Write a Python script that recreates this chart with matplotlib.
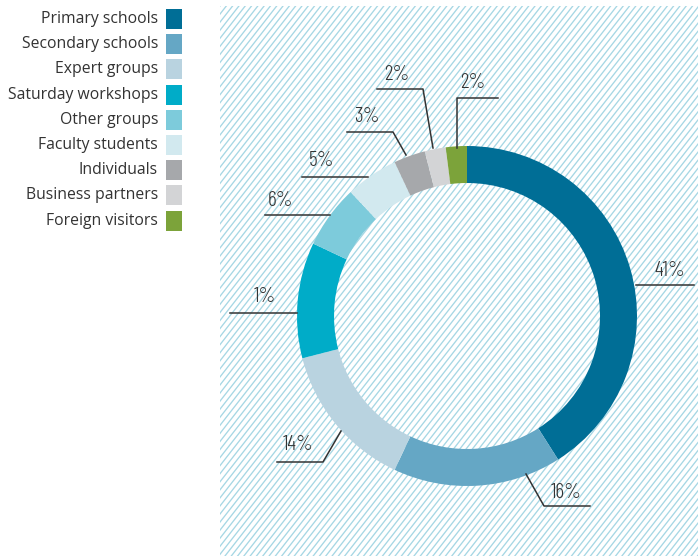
import numpy as np
import matplotlib
matplotlib.use('Agg')
from matplotlib import pyplot as plt
from matplotlib.patches import Rectangle

categories = ['Primary schools', 'Secondary schools', 'Expert groups', 'Saturday workshops',
              'Other groups', 'Faculty students', 'Individuals', 'Business partners', 'Foreign visitors']
values = [41, 16, 14, 11, 6, 5, 3, 2, 2]
pct_labels = ['41%', '16%', '14%', '1%', '6%', '5%', '3%', '2%', '2%']
colors = ['#006e96', '#65a7c5', '#b9d3e0', '#00acc8', '#7dcbdb', '#d2e9ef', '#a6a8ab', '#d3d4d6', '#7ca33a']

W, H = 698, 556
fig = plt.figure(figsize=(W / 100, H / 100), dpi=100)
ax = fig.add_axes([0, 0, 1, 1])

# hatched background panel
bx0, by0, bx1, by1 = 220, 0, W, H - 6
panel = Rectangle((bx0, by0), bx1 - bx0, by1 - by0, facecolor='white', edgecolor='none')
ax.add_patch(panel)
slope = np.tan(np.radians(52))
step = 6.3
run = (by1 - by0) / slope
for x0 in np.arange(bx0 - run, bx1 + step, step):
    ln, = ax.plot([x0, x0 + run], [by0, by1], color='#a6d7e4', lw=0.95, zorder=1)
    ln.set_clip_path(panel)

# donut
cx, cy, r_out, width = 467, H - 316, 170, 37
wedges, _ = ax.pie(values, colors=colors, startangle=90, counterclock=False,
                   center=(cx, cy), radius=r_out, frame=True,
                   wedgeprops=dict(width=width, linewidth=0))
for w in wedges:
    w.set_zorder(2)
ax.set_xlim(0, W)
ax.set_ylim(0, H)
ax.axis('off')

# leader lines and labels, pixel layout (y from top)
label_font = ['Barlow Condensed', 'DejaVu Sans']
layout = [
    ((670, 270), [(636, 285), (694, 285)]),
    ((566, 492), [(526, 474), (544, 506), (590, 506)]),
    ((298, 444), [(341, 431), (323, 462), (277, 462)]),
    ((265, 296), [(297, 313), (230, 313)]),
    ((281, 200), [(330, 215), (265, 215)]),
    ((322, 161), [(368, 177), (302, 177)]),
    ((367, 116), [(406, 155), (393, 132), (347, 132)]),
    ((397, 74), [(433, 148), (423, 89), (377, 89)]),
    ((473, 82), [(457, 148), (457, 98), (498, 98)]),
]
for lab, ((tx, ty), pts) in zip(pct_labels, layout):
    xs = [p[0] for p in pts]
    ys = [H - p[1] for p in pts]
    ax.plot(xs, ys, color='#333333', lw=1.1, zorder=3)
    ax.text(tx, H - ty, lab, ha='center', va='center', fontsize=15.5, fontweight=300,
            color='#333333', family=label_font, zorder=4)

# legend
for i, (name, c) in enumerate(zip(categories, colors)):
    y = H - (19 + i * 25.2)
    ax.add_patch(Rectangle((166, y - 10), 16, 20, facecolor=c, edgecolor='none'))
    ax.text(158, y, name, ha='right', va='center', fontsize=11.3, color='#333333',
            family=['Open Sans', 'DejaVu Sans'])

fig.savefig('out.png', dpi=100)
